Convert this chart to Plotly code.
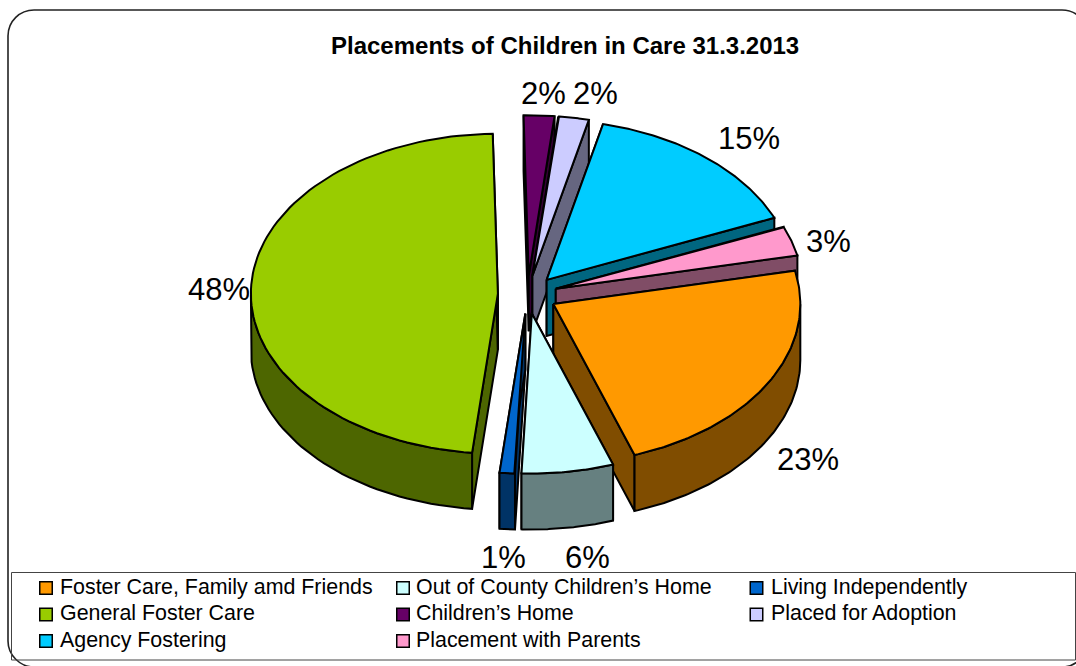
import numpy as np
import plotly.graph_objects as go

# Placement categories, clockwise from the first slice
categories = [
    "Foster Care, Family amd Friends", "Out of County Children’s Home", "Living Independently",
    "General Foster Care", "Children’s Home", "Placed for Adoption",
    "Agency Fostering", "Placement with Parents",
]
shares = [23, 6, 1, 48, 2, 2, 15, 3]
top_colours = ["#FF9900", "#CCFFFF", "#0066CC", "#99CC00", "#660066", "#CCCCFF", "#00CCFF", "#FF99CC"]
side_colours = ["#804D00", "#668080", "#003366", "#4D6600", "#330033", "#666680", "#006680", "#804D66"]

# Legend reads row by row in three columns
legend_order = [0, 1, 2, 3, 4, 5, 6, 7]

# Pie projection, in page pixels
CX, CY = 527.5, 294.5
RX, RY = 247, 160
DEPTH = 56
EXPLODE = 0.12
START_DEG = 12
LINE = 2

# Slices are painted back to front so nearer walls cover farther ones
paint_order = [3, 4, 5, 6, 7, 0, 2, 1]

fig = go.Figure()


def add_poly(xs, ys, fill):
    fig.add_trace(go.Scatter(
        x=xs, y=ys, mode="lines", fill="toself", fillcolor=fill,
        line=dict(color="black", width=LINE), hoverinfo="skip", showlegend=False,
    ))


def point(apex, deg):
    a = np.radians(deg)
    return apex[0] + RX * np.cos(a), apex[1] - RY * np.sin(a)


edges = START_DEG - np.concatenate(([0], np.cumsum(shares))) * 360 / sum(shares)

for i in paint_order:
    a0, a1 = edges[i], edges[i + 1]
    mid = np.radians((a0 + a1) / 2)
    apex = (CX + EXPLODE * RX * np.cos(mid), CY - EXPLODE * RY * np.sin(mid))

    # radial walls
    for edge in (a0, a1):
        ex, ey = point(apex, edge)
        add_poly([apex[0], ex, ex, apex[0], apex[0]],
                 [apex[1], ey, ey + DEPTH, apex[1] + DEPTH, apex[1]], side_colours[i])

    # outer rim, only where the arc faces the viewer
    arc = np.linspace(a0, a1, 90)
    front = arc[np.sin(np.radians(arc)) <= 0]
    if front.size > 1:
        px, py = point(apex, front)
        add_poly(np.r_[px, px[::-1], px[0]], np.r_[py, py[::-1] + DEPTH, py[0]], side_colours[i])

    # top face
    px, py = point(apex, arc)
    add_poly(np.r_[apex[0], px, apex[0]], np.r_[apex[1], py, apex[1]], top_colours[i])

# Percentage labels set around the pie
label_centres = [(808, 459), (587, 557), (503, 557), (219, 289), (543, 93), (595, 93), (749, 138), (828, 241)]
annotations = [
    dict(x=x, y=y, text=f"{v}%", showarrow=False, xref="x", yref="y",
         font=dict(family="Liberation Sans", size=31, color="black"))
    for (x, y), v in zip(label_centres, shares)
]

annotations.append(dict(
    x=565, y=45, text="<b>Placements of Children in Care 31.3.2013</b>", showarrow=False, xref="x", yref="y",
    font=dict(family="Liberation Sans", size=24, color="black"),
))

# Hand-built legend: swatches are markers, entries are text
swatch_x = [46, 403, 756.5]
text_x = [58, 414, 769]
row_y = [588, 614.5, 641]
for n, i in enumerate(legend_order):
    col, row = n % 3, n // 3
    fig.add_trace(go.Scatter(
        x=[swatch_x[col]], y=[row_y[row]], mode="markers", hoverinfo="skip", showlegend=False,
        marker=dict(symbol="square", size=12.5, color=top_colours[i], line=dict(color="black", width=1.5)),
    ))
    annotations.append(dict(
        x=text_x[col], y=row_y[row] - 1.5, text=categories[i], showarrow=False, xref="x", yref="y", xanchor="left",
        font=dict(family="Liberation Sans", size=21.4, color="black"),
    ))

frame_path = (
    "M 8 36 C 8 21 20 10 34 10 L 1062 10 C 1076 10 1088 21 1088 36 "
    "L 1088 641 C 1088 655 1076 667 1062 667 L 34 667 C 20 667 8 655 8 641 Z"
)

fig.update_layout(
    width=1076, height=666, margin=dict(l=0, r=0, t=0, b=0),
    paper_bgcolor="white", plot_bgcolor="white", showlegend=False,
    xaxis=dict(range=[0, 1076], visible=False, fixedrange=True),
    yaxis=dict(range=[666, 0], visible=False, fixedrange=True),
    annotations=annotations,
    shapes=[
        dict(type="path", path=frame_path, xref="x", yref="y", layer="below",
             line=dict(color="#222222", width=1.6)),
        dict(type="rect", x0=11.5, y0=572.5, x1=1075.5, y1=660, xref="x", yref="y", layer="below",
             line=dict(color="#444444", width=1)),
    ],
)

fig.write_html("out.html")
